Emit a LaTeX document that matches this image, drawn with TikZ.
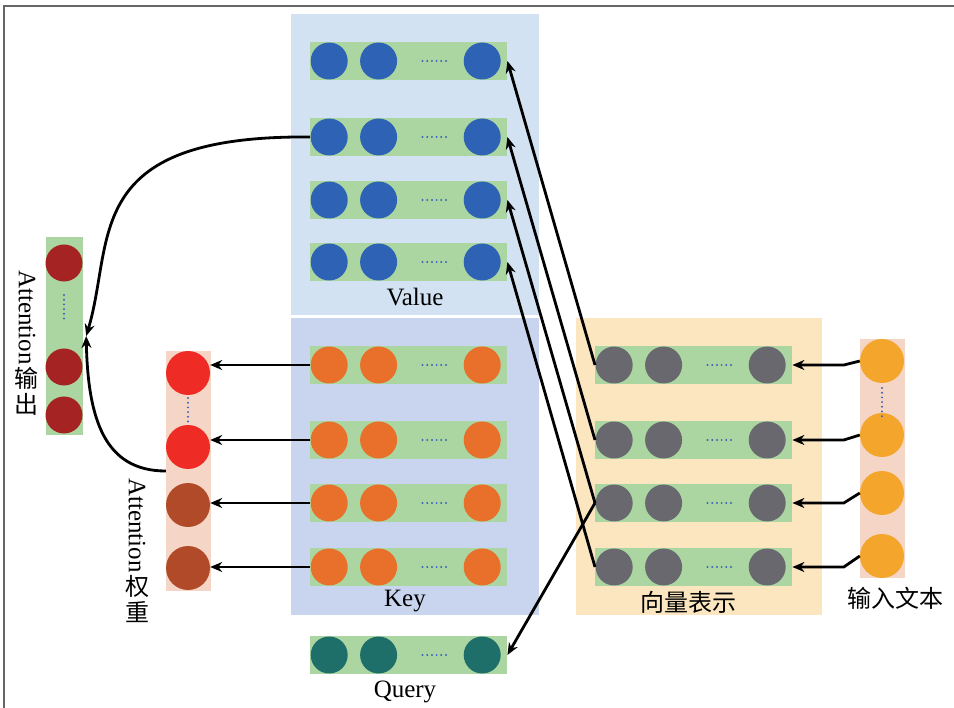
\documentclass[tikz,border=0pt]{standalone}
\usepackage{fontspec}
\setmainfont{Liberation Serif}
\newfontfamily\cjk{Noto Sans CJK SC}
\usepackage{tikz}
\usetikzlibrary{positioning, calc, arrows.meta}

\definecolor{valbg}{HTML}{D2E2F2}
\definecolor{keybg}{HTML}{C9D4EE}
\definecolor{vecbg}{HTML}{FBE6C0}
\definecolor{bargreen}{HTML}{ABD6A2}
\definecolor{colpeach}{HTML}{F5D6C6}
\definecolor{valblue}{HTML}{2E62B4}
\definecolor{keyorange}{HTML}{E8702A}
\definecolor{vecgray}{HTML}{69686E}
\definecolor{qteal}{HTML}{1E6E6A}
\definecolor{inyellow}{HTML}{F4A62C}
\definecolor{wred}{HTML}{EE2B25}
\definecolor{wbrown}{HTML}{B04A28}
\definecolor{outred}{HTML}{A52322}
\definecolor{dotblue}{HTML}{3F63B8}

\newcommand{\vecrow}[4]{%
  \node[bar, anchor=west] (#1) at (#2,#3) {};
  \node[ball, fill=#4, right=0.5pt of #1.west] (#1-1) {};
  \node[ball, fill=#4, right=12pt of #1-1] (#1-2) {};
  \node[ball, fill=#4, left=6.5pt of #1.east] (#1-3) {};
  \draw[dotrow] ([xshift=-41pt]#1-3.west) -- ([xshift=-14pt]#1-3.west);
}

\begin{document}
\begin{tikzpicture}[x=1pt, y=-1pt,
            bar/.style={fill=bargreen, minimum width=197pt, minimum height=38pt, inner sep=0pt},
            ball/.style={circle, minimum size=37pt, inner sep=0pt},
            bigball/.style={ball, minimum size=44pt},
            colbox/.style={inner sep=0pt},
            dotrow/.style={dotblue, line width=2.2pt, line cap=round, dash pattern=on 0pt off 4.7pt},
            arr/.style={-{Stealth[length=12pt,width=10pt]}, line width=2.8pt},
            lab/.style={font=\fontsize{25}{28}\selectfont, inner sep=0pt},
            cjklab/.style={font=\cjk\fontsize{24}{26}\selectfont, inner sep=0pt}]
            \useasboundingbox (0,0) rectangle (954,708);
            \draw[gray!80!black, line width=1.4pt] (4,708) -- (4,6) -- (954,6);

            \fill[valbg] (291,14) rectangle (539,315);
            \fill[keybg] (291,318) rectangle (539,615);
            \fill[vecbg] (576,318) rectangle (822,615);

            \foreach \i/\y in {1/61, 2/137, 3/200, 4/262} {
              \vecrow{v\i}{310}{\y}{valblue}
            }
            \foreach \i/\y in {1/365, 2/440, 3/503, 4/567} {
              \vecrow{k\i}{310}{\y}{keyorange}
              \vecrow{e\i}{595}{\y}{vecgray}
            }
            \vecrow{q}{310}{655}{qteal}

            \node[lab] at (415,297) {Value};
            \node[lab] at (405,601) {Key};
            \node[lab] at (405,692) {Query};
            \node[cjklab] at (688,602) {向量表示};
            \node[cjklab] at (895,598) {输入文本};

            \node[colbox, fill=colpeach, minimum width=45pt, minimum height=239pt] (icol) at (882.5,458.5) {};
            \node[bigball, fill=inyellow] (i1) at (882,361) {};
            \node[bigball, fill=inyellow] (i2) at (882,435) {};
            \node[bigball, fill=inyellow] (i3) at (882,493) {};
            \node[bigball, fill=inyellow] (i4) at (882,556) {};
            \draw[dotrow] (882,388) -- (882,417);

            \node[colbox, fill=colpeach, minimum width=45pt, minimum height=240pt] (wcol) at (188.5,471) {};
            \node[bigball, fill=wred] (w1) at (188,373) {};
            \node[bigball, fill=wred] (w2) at (188,447) {};
            \node[bigball, fill=wbrown] (w3) at (188,505) {};
            \node[bigball, fill=wbrown] (w4) at (188,568) {};
            \draw[dotrow] (188,398) -- (188,424);

            \node[colbox, fill=bargreen, minimum width=37pt, minimum height=198pt] (ocol) at (64.5,336) {};
            \node[ball, fill=outred] (o1) at (64,263) {};
            \node[ball, fill=outred] (o2) at (64,367) {};
            \node[ball, fill=outred] (o3) at (64,415) {};
            \draw[dotrow] (64,295) -- (64,323);
            \coordinate (otip) at ([xshift=3pt]ocol.east);

            \node[lab, rotate=-90, anchor=west] (atto) at (27,270) {Attention};
            \node[cjklab, anchor=north, align=center] at ([yshift=-2pt]atto.east) {输\\出};
            \node[lab, rotate=-90, anchor=west] (attw) at (137,478) {Attention};
            \node[cjklab, anchor=north, align=center] at ([yshift=-2pt]attw.east) {权\\重};

            \foreach \i in {1,...,4} {
              \draw[arr] (i\i.west) -- ($(i\i.west |- e\i.east)+(-16,0)$) -- (e\i.east);
              \draw[arr] (e\i.west) -- (v\i.east);
              \draw[arr] (k\i.west) -- (k\i.west -| w\i.east);
            }
            \draw[arr] (e3.west) -- (q.east);
            \draw[arr] (v2.west) .. controls (80,135) and (115,240) .. (otip);
            \draw[arr] (wcol.west) .. controls (105,471) and (88,420) .. (otip);
          \end{tikzpicture}
\end{document}
